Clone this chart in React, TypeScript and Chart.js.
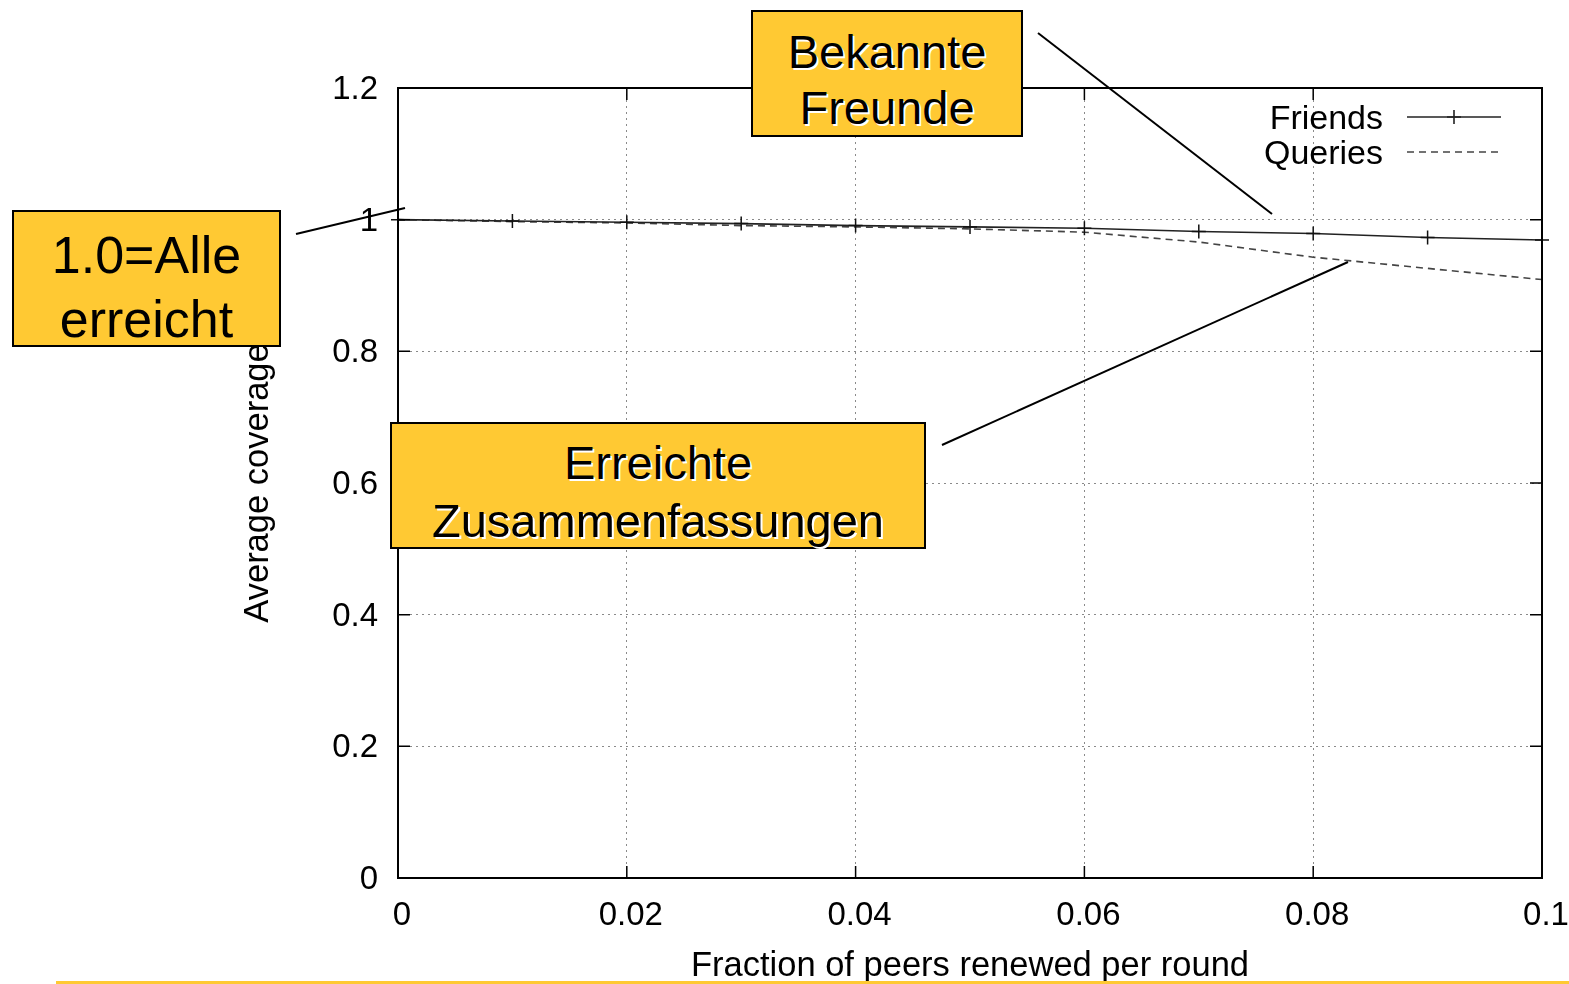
import React, { useEffect, useRef } from "react";
import Chart from "chart.js/auto";

const xValues = [0, 0.01, 0.02, 0.03, 0.04, 0.05, 0.06, 0.07, 0.08, 0.09, 0.1];
const friends = [1.0, 0.998, 0.996, 0.994, 0.991, 0.989, 0.987, 0.982, 0.979, 0.973, 0.969];
const queries = [1.0, 0.997, 0.995, 0.991, 0.989, 0.986, 0.981, 0.966, 0.943, 0.926, 0.909];
const xTickLabels = ["0", "0.02", "0.04", "0.06", "0.08", "0.1"];
const yTickLabels = ["0", "0.2", "0.4", "0.6", "0.8", "1", "1.2"];
const seriesNames = ["Friends", "Queries"];
const xTitle = "Fraction of peers renewed per round";
const yTitle = "Average coverage";

const FONT = '"Liberation Sans", Arial, Helvetica, sans-serif';
const YELLOW = "#FFC933";

const boxes = [
  { lines: ["Bekannte", "Freunde"], left: 751, top: 10, width: 272, height: 127, size: 47, lh: 56, dy: 6, shadow: true },
  { lines: ["1.0=Alle", "erreicht"], left: 12, top: 210, width: 269, height: 137, size: 52, lh: 64, dy: 8, shadow: false },
  { lines: ["Erreichte", "Zusammenfassungen"], left: 390, top: 422, width: 536, height: 127, size: 47, lh: 58, dy: 6, shadow: true },
];

const callouts = [
  [1038, 33, 1272, 214],
  [296, 234, 405, 208],
  [942, 445, 1348, 262],
];

const framePlugin = {
  id: "frame",
  afterDraw(chart: any) {
    const { ctx, chartArea: a, scales } = chart;
    ctx.save();
    ctx.strokeStyle = "#000";
    ctx.lineWidth = 1.5;
    const tl = 12;
    ctx.beginPath();
    scales.x.ticks.forEach((t: any) => {
      const px = scales.x.getPixelForValue(t.value);
      ctx.moveTo(px, a.bottom);
      ctx.lineTo(px, a.bottom - tl);
      ctx.moveTo(px, a.top);
      ctx.lineTo(px, a.top + tl);
    });
    scales.y.ticks.forEach((t: any) => {
      const py = scales.y.getPixelForValue(t.value);
      ctx.moveTo(a.left, py);
      ctx.lineTo(a.left + tl, py);
      ctx.moveTo(a.right, py);
      ctx.lineTo(a.right - tl, py);
    });
    ctx.stroke();
    ctx.lineWidth = 2;
    ctx.strokeRect(a.left, a.top, a.right - a.left, a.bottom - a.top);

    ctx.fillStyle = "#000";
    ctx.font = `34.5px ${FONT}`;
    ctx.textAlign = "center";
    ctx.textBaseline = "alphabetic";
    ctx.fillText(xTitle, (a.left + a.right) / 2, 976);
    ctx.save();
    ctx.translate(268, (a.top + a.bottom) / 2);
    ctx.rotate(-Math.PI / 2);
    ctx.fillText(yTitle, 0, 0);
    ctx.restore();

    const ds = chart.data.datasets;
    const rows = [117, 152];
    ds.forEach((d: any, i: number) => {
      const y = rows[i];
      ctx.fillStyle = "#000";
      ctx.textAlign = "right";
      ctx.textBaseline = "middle";
      ctx.font = `34px ${FONT}`;
      ctx.fillText(d.label, 1383, y + 3);
      ctx.strokeStyle = d.borderColor;
      ctx.lineWidth = d.borderWidth;
      ctx.setLineDash(d.borderDash || []);
      ctx.beginPath();
      ctx.moveTo(1407, y);
      ctx.lineTo(1501, y);
      ctx.stroke();
      ctx.setLineDash([]);
      if (d.pointRadius > 0) {
        ctx.beginPath();
        ctx.moveTo(1454, y - d.pointRadius);
        ctx.lineTo(1454, y + d.pointRadius);
        ctx.moveTo(1454 - d.pointRadius, y);
        ctx.lineTo(1454 + d.pointRadius, y);
        ctx.stroke();
      }
    });
    ctx.restore();
  },
};

export default function App() {
  const ref = useRef<HTMLCanvasElement>(null);
  useEffect(() => {
    if (!ref.current) return;
    const chart = new Chart(ref.current, {
      type: "line",
      data: {
        datasets: [
          {
            label: seriesNames[0],
            data: xValues.map((x, i) => ({ x, y: friends[i] })),
            borderColor: "#222",
            backgroundColor: "#222",
            borderWidth: 1.6,
            pointStyle: "cross",
            pointRadius: 7,
            pointBorderWidth: 1.5,
            pointBorderColor: "#111",
            fill: false,
            tension: 0,
            clip: false as any,
          },
          {
            label: seriesNames[1],
            data: xValues.map((x, i) => ({ x, y: queries[i] })),
            borderColor: "#444",
            backgroundColor: "#444",
            borderWidth: 1.6,
            borderDash: [7, 5],
            pointRadius: 0,
            fill: false,
            tension: 0,
            clip: false as any,
          },
        ],
      },
      options: {
        responsive: false,
        animation: false,
        layout: { padding: { left: 0, top: 88, right: 27, bottom: 0 } },
        plugins: { legend: { display: false }, tooltip: { enabled: false }, title: { display: false } },
        scales: {
          x: {
            type: "linear",
            min: 0,
            max: 0.1,
            ticks: {
              stepSize: 0.02,
              padding: 18,
              labelOffset: 4,
              color: "#000",
              font: { family: FONT, size: 33 },
              maxRotation: 0,
              callback: (v: any, i: number) => xTickLabels[i] ?? String(v),
            },
            grid: { color: "#8a8a8a", lineWidth: 1, drawTicks: false },
            border: { display: false, dash: [2, 4] },
            afterFit: (s: any) => {
              s.height = 106;
              s.paddingLeft = 0;
              s.paddingRight = 0;
            },
          },
          y: {
            type: "linear",
            min: 0,
            max: 1.2,
            ticks: {
              stepSize: 0.2,
              padding: 20,
              labelOffset: 2,
              color: "#000",
              font: { family: FONT, size: 33 },
              callback: (v: any, i: number) => yTickLabels[i] ?? String(v),
            },
            grid: { color: "#8a8a8a", lineWidth: 1, drawTicks: false },
            border: { display: false, dash: [2, 4] },
            afterFit: (s: any) => {
              s.width = 398;
              s.paddingTop = 0;
              s.paddingBottom = 0;
            },
          },
        },
      },
      plugins: [framePlugin],
    } as any);
    return () => chart.destroy();
  }, []);

  return (
    <div style={{ position: "absolute", left: 0, top: 0, width: 1569, height: 984, background: "#fff", fontFamily: FONT, overflow: "hidden" }}>
      <canvas ref={ref} width={1569} height={984} style={{ position: "absolute", left: 0, top: 0 }} />
      <svg width={1569} height={984} style={{ position: "absolute", left: 0, top: 0 }}>
        {callouts.map((c, i) => (
          <line key={i} x1={c[0]} y1={c[1]} x2={c[2]} y2={c[3]} stroke="#000" strokeWidth={2} />
        ))}
      </svg>
      {boxes.map((b, i) => (
        <div
          key={i}
          style={{
            position: "absolute",
            left: b.left,
            top: b.top,
            width: b.width,
            height: b.height,
            boxSizing: "border-box",
            border: "2px solid #000",
            background: YELLOW,
            display: "flex",
            flexDirection: "column",
            alignItems: "center",
            justifyContent: "center",
            fontSize: b.size,
            lineHeight: `${b.lh}px`,
            color: "#000",
            textShadow: b.shadow ? "2px 2px 0 #fff" : "none",
            whiteSpace: "nowrap",
          }}
        >
          {b.lines.map((l, j) => (
            <div key={j} style={{ position: "relative", top: b.dy }}>{l}</div>
          ))}
        </div>
      ))}
      <div style={{ position: "absolute", left: 56, top: 981, width: 1513, height: 3, background: YELLOW }} />
    </div>
  );
}
